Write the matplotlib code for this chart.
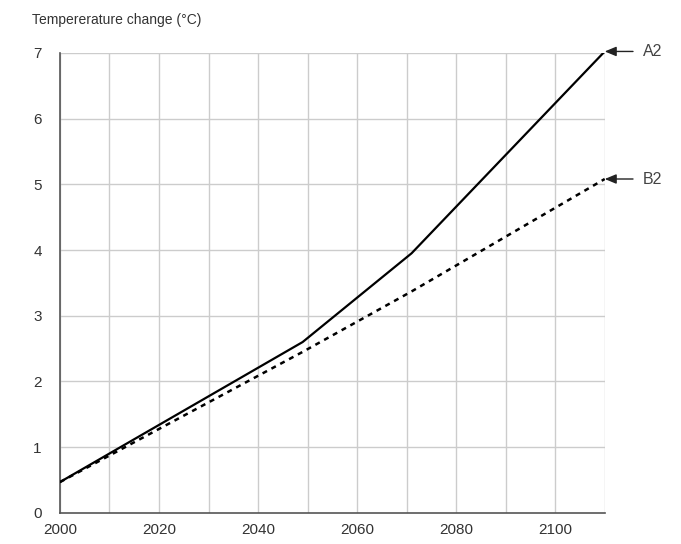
import matplotlib.pyplot as plt

years = [2000, 2049, 2071, 2110]
a2 = [0.47, 2.60, 3.95, 7.02]
b2 = [0.47, 2.45, 3.37, 5.08]
series_labels = ['A2', 'B2']
x_ticks = [2000, 2020, 2040, 2060, 2080, 2100]
x_grid = list(range(2000, 2111, 10))
y_ticks = [0, 1, 2, 3, 4, 5, 6, 7]

plt.rcParams['font.family'] = ['Liberation Sans', 'DejaVu Sans']
plt.rcParams['font.size'] = 11

fig = plt.figure(figsize=(6.81, 5.44), dpi=100)
ax = fig.add_axes([0.088, 0.057, 0.8, 0.846])

for x in x_grid:
    ax.axvline(x, color='#cccccc', lw=1, zorder=0)
for y in y_ticks[1:]:
    ax.axhline(y, color='#cccccc', lw=1, zorder=0)

ax.plot(years, a2, color='black', lw=1.6, zorder=3)
ax.plot(years, b2, color='black', lw=1.8, linestyle=(0, (2, 2)), zorder=3)

for lab, vals in zip(series_labels, [a2, b2]):
    ax.annotate(lab, xy=(years[-1], vals[-1]), xytext=(38, 0),
                textcoords='offset pixels', ha='left', va='center',
                color='#444444', fontsize=11.5, annotation_clip=False,
                arrowprops=dict(arrowstyle='-|>,head_length=0.6,head_width=0.25',
                                color='#222222', lw=1, shrinkA=5, shrinkB=0))

ax.set_xlim(2000, 2110)
ax.set_ylim(0, 7)
ax.set_xticks(x_ticks)
ax.set_yticks(y_ticks)
ax.tick_params(length=0, colors='#333333', labelsize=11)
ax.tick_params(axis='y', pad=13)
ax.tick_params(axis='x', pad=7)
for s in ['top', 'right']:
    ax.spines[s].set_visible(False)
for s in ['left', 'bottom']:
    ax.spines[s].set_color('#555555')
    ax.spines[s].set_linewidth(1.2)

fig.text(32 / 681, 1 - 20 / 544, 'Tempererature change (°C)', ha='left', va='center',
         color='#333333', fontsize=10)

fig.savefig('out.png', dpi=100)
